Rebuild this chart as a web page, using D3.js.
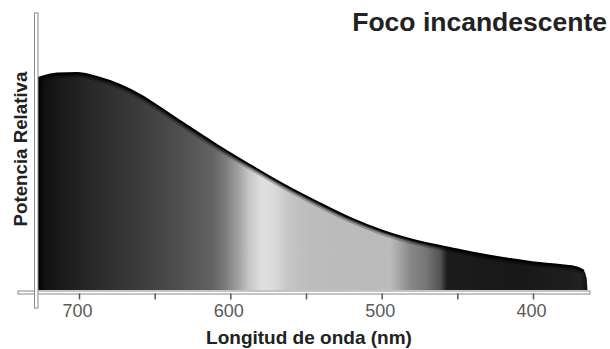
<!DOCTYPE html>
<html><head><meta charset="utf-8">
<script src="https://cdn.jsdelivr.net/npm/d3@7"></script>
<style>body{margin:0;background:#fff}svg{display:block}</style>
</head><body>
<svg id="c" width="610" height="349"></svg>
<script>
// Data: relative power of an incandescent bulb versus wavelength (nm)
const wavelengths = [727.1, 714.5, 701.3, 688.1, 672.9, 659.7, 653.1, 631.3, 608.8, 587.0, 565.2, 542.7, 520.9, 499.1, 476.6, 454.8, 435.0, 415.1, 395.4, 382.2, 370.9, 366.3, 364.6, 364.0];
const power       = [97.7, 99.8, 100, 98.2, 94.5, 89.9, 87.1, 77.0, 66.8, 57.6, 48.8, 40.6, 33.2, 27.2, 22.6, 19.4, 16.6, 14.3, 12.4, 11.5, 10.4, 8.8, 5.5, 0];
// Spectrum gradient (wavelength -> gray level as rendered)
const gradWavelengths = [727, 722.5, 706, 686, 666, 646.5, 626.6, 612, 603.5, 595, 587, 579, 570.5, 560.5, 547, 507.7, 494.4, 489, 481, 471, 461.4, 456.8, 408.5, 375.5, 369, 364];
const gradGrays       = [0, 17, 30, 44, 56, 69, 85, 98, 122, 160, 200, 224, 218, 196, 188, 186, 188, 168, 136, 119, 85, 28, 24, 30, 34, 17];
const tickValues = [700, 650, 600, 550, 500, 450, 400];
const tickLabels = ["700", "", "600", "", "500", "", "400"];
const title = "Foco incandescente";
const xTitle = "Longitud de onda (nm)";
const yTitle = "Potencia Relativa";

const svg = d3.select("#c");
const x = d3.scaleLinear().domain([700, 400]).range([79, 533]);
const y = d3.scaleLinear().domain([0, 100]).range([290, 73]);

const pts = wavelengths.map((w, i) => ({w, p: power[i]}));
const defs = svg.append("defs");
const grad = defs.append("linearGradient").attr("id", "spec")
  .attr("gradientUnits", "userSpaceOnUse")
  .attr("x1", x(gradWavelengths[0])).attr("x2", x(gradWavelengths[gradWavelengths.length - 1]))
  .attr("y1", 0).attr("y2", 0);
const g0 = x(gradWavelengths[0]), g1 = x(gradWavelengths[gradWavelengths.length - 1]);
gradWavelengths.forEach((w, i) => {
  const v = gradGrays[i];
  grad.append("stop").attr("offset", (x(w) - g0) / (g1 - g0)).attr("stop-color", d3.rgb(v, v, v));
});

const area = d3.area().x(d => x(d.w)).y0(y(0)).y1(d => y(d.p)).curve(d3.curveMonotoneX);
const line = d3.line().x(d => x(d.w)).y(d => y(d.p)).curve(d3.curveMonotoneX);

defs.append("clipPath").attr("id", "clipA").append("path").attr("d", area(pts));

svg.append("path").attr("d", area(pts)).attr("fill", "url(#spec)");
const topPts = pts.slice(0, -2);
const edge = svg.append("g").attr("clip-path", "url(#clipA)");
edge.append("path").attr("d", line(topPts)).attr("fill", "none")
  .attr("stroke", "#000").attr("stroke-opacity", 0.25).attr("stroke-width", 9);
edge.append("path").attr("d", line(topPts)).attr("fill", "none")
  .attr("stroke", "#000").attr("stroke-opacity", 0.5).attr("stroke-width", 5);
svg.append("path").attr("d", line(topPts)).attr("fill", "none")
  .attr("stroke", "#000").attr("stroke-width", 2);

// axes (double-line style)
svg.append("rect").attr("x", 18).attr("y", 291).attr("width", 572).attr("height", 3)
  .attr("fill", "#fff").attr("stroke", "#8a8a8a").attr("stroke-width", 1);
svg.append("rect").attr("x", 34.5).attr("y", 13).attr("width", 3.5).attr("height", 295)
  .attr("fill", "#fff").attr("stroke", "#8a8a8a").attr("stroke-width", 1);

const xAxis = d3.axisBottom(x).tickValues(tickValues)
  .tickFormat((d, i) => tickLabels[i]).tickSize(6).tickPadding(5);
const ax = svg.append("g").attr("transform", "translate(0,293.5)").call(xAxis);
ax.select(".domain").remove();
ax.selectAll(".tick line").attr("stroke", "#555").attr("stroke-width", 1.5);
ax.selectAll(".tick text").attr("fill", "#5a5a5a").attr("font-family", "Liberation Sans, Arial, sans-serif")
  .attr("font-size", 18).attr("dy", null).attr("y", 23.5).attr("dx", -2);

svg.append("text").attr("x", 607).attr("y", 31).attr("text-anchor", "end")
  .attr("font-family", "Liberation Sans, Arial, sans-serif").attr("font-weight", "bold")
  .attr("font-size", 26.5).attr("fill", "#222").text(title);
svg.append("text").attr("x", 309).attr("y", 344).attr("text-anchor", "middle")
  .attr("font-family", "Liberation Sans, Arial, sans-serif").attr("font-weight", "bold")
  .attr("font-size", 19).attr("fill", "#222").text(xTitle);
svg.append("text").attr("transform", "translate(27,149) rotate(-90)").attr("text-anchor", "middle")
  .attr("font-family", "Liberation Sans, Arial, sans-serif").attr("font-weight", "bold")
  .attr("font-size", 18.7).attr("fill", "#222").text(yTitle);
</script>
</body></html>
